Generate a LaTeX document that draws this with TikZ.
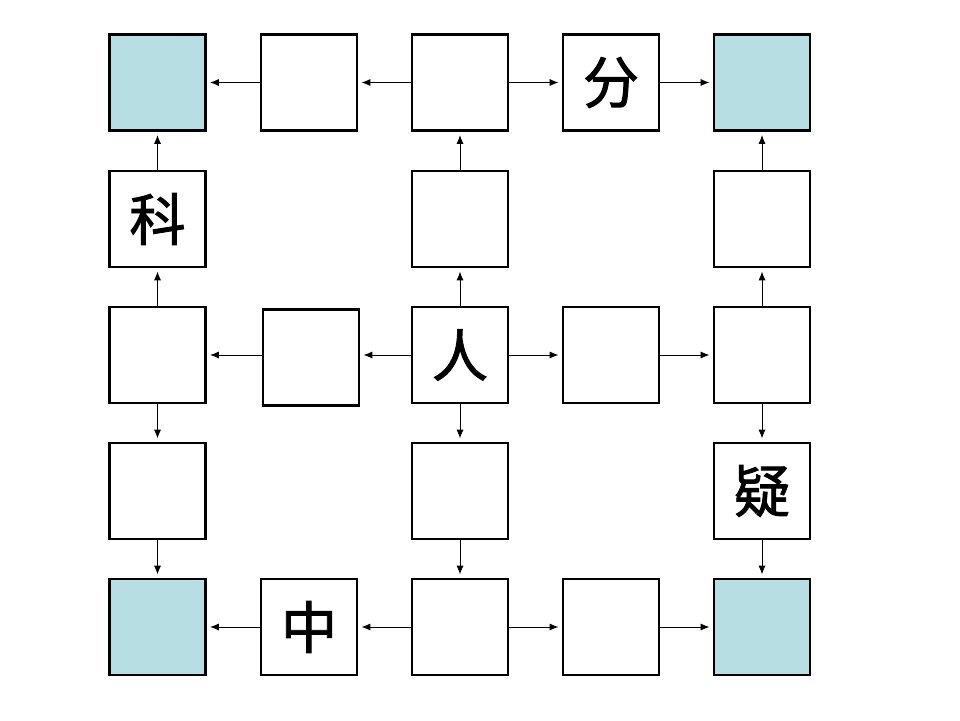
\documentclass[tikz,border=0pt]{standalone}
\usepackage{fontspec}
\newfontfamily\cjk{Noto Sans CJK SC}[UprightFeatures={FakeBold=1.6}]
\usetikzlibrary{arrows.meta}

\definecolor{cornerblue}{RGB}{183,222,226}

\tikzset{
  cell/.style={draw=black, line width=1.2pt, minimum size=1.92cm, inner sep=0pt,
    font=\cjk\fontsize{32}{34}\selectfont},
  corner/.style={cell, fill=cornerblue},
  link/.style={-{Latex[length=5pt,width=4pt]}, line width=0.5pt, shorten >=2pt}
}

\begin{document}
\begin{tikzpicture}[x=0.02cm, y=-0.02cm]
  \useasboundingbox (0,0) rectangle (960,720);

  % Top row
  \node[corner] (tl) at (157.5,82.5) {};
  \node[cell] (t2) at (309,82.5) {};
  \node[cell] (t3) at (460,82.5) {};
  \node[cell] (t4) at (611,82.5) {分};
  \node[corner] (tr) at (762,82.5) {};

  % Second row
  \node[cell] (l2) at (157.5,219) {科};
  \node[cell] (m2) at (460,219) {};
  \node[cell] (r2) at (762,219) {};

  % Middle row
  \node[cell] (l3) at (157.5,355) {};
  \node[cell] (w3) at (311,357.5) {};
  \node[cell] (mid) at (460,355) {人};
  \node[cell] (e3) at (611,355) {};
  \node[cell] (r3) at (762,355) {};

  % Fourth row
  \node[cell] (l4) at (157.5,491) {};
  \node[cell] (m4) at (460,491) {};
  \node[cell] (r4) at (762,491) {疑};

  % Bottom row
  \node[corner] (bl) at (157.5,627) {};
  \node[cell] (b2) at (309,627) {中};
  \node[cell] (b3) at (460,627) {};
  \node[cell] (b4) at (611,627) {};
  \node[corner] (br) at (762,627) {};

  % Arrows from the centre outwards
  \draw[link] (mid.west) -- (mid.west -| w3.east);
  \draw[link] (l3.east -| w3.west) -- (l3.east);
  \draw[link] (mid) -- (e3);
  \draw[link] (e3) -- (r3);
  \draw[link] (mid) -- (m2);
  \draw[link] (m2) -- (t3);
  \draw[link] (mid) -- (m4);
  \draw[link] (m4) -- (b3);

  % Left and right columns
  \draw[link] (l3) -- (l2);
  \draw[link] (l2) -- (tl);
  \draw[link] (l3) -- (l4);
  \draw[link] (l4) -- (bl);
  \draw[link] (r3) -- (r2);
  \draw[link] (r2) -- (tr);
  \draw[link] (r3) -- (r4);
  \draw[link] (r4) -- (br);

  % Top and bottom rows
  \draw[link] (t3) -- (t2);
  \draw[link] (t2) -- (tl);
  \draw[link] (t3) -- (t4);
  \draw[link] (t4) -- (tr);
  \draw[link] (b3) -- (b2);
  \draw[link] (b2) -- (bl);
  \draw[link] (b3) -- (b4);
  \draw[link] (b4) -- (br);
\end{tikzpicture}
\end{document}
